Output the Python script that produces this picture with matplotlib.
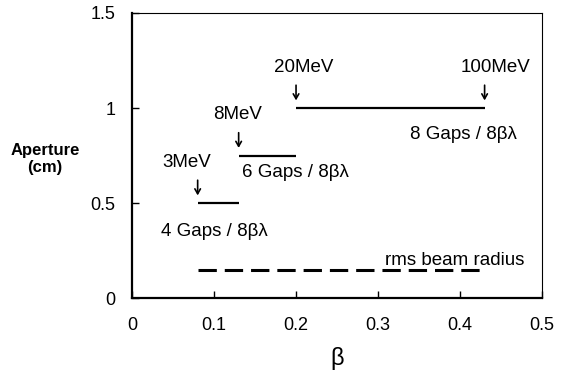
import matplotlib
matplotlib.use('Agg')
import matplotlib.pyplot as plt

plt.rcParams['font.family'] = ['Liberation Sans', 'DejaVu Sans']

# aperture segments: (beta start, beta end, aperture cm)
seg_start = [0.08, 0.13, 0.20]
seg_end = [0.13, 0.20, 0.43]
seg_aperture = [0.5, 0.75, 1.0]
seg_labels = ['4 Gaps / 8βλ', '6 Gaps / 8βλ', '8 Gaps / 8βλ']

# energy markers (beta, aperture below the arrow)
energy_labels = ['3MeV', '8MeV', '20MeV', '100MeV']
energy_beta = [0.08, 0.13, 0.20, 0.43]
energy_aperture = [0.5, 0.75, 1.0, 1.0]

# rms beam radius
rms_beta = [0.08, 0.43]
rms_radius = [0.15, 0.15]

fig = plt.figure(figsize=(5.62, 3.79), dpi=100)
ax = fig.add_axes([0.235, 0.2137, 0.7294, 0.752])

for x0, x1, y in zip(seg_start, seg_end, seg_aperture):
    ax.plot([x0, x1], [y, y], color='black', lw=1.6, solid_capstyle='butt')
ax.plot(rms_beta, rms_radius, color='black', lw=2.2, dashes=(6, 2.6))

# energy labels with down arrows
label_dx = [-0.013, -0.001, 0.009, 0.013]
for name, b, y, dx in zip(energy_labels, energy_beta, energy_aperture, label_dx):
    ax.annotate('', xy=(b, y + 0.04), xytext=(b, y + 0.12),
                arrowprops=dict(arrowstyle='->,head_length=0.35,head_width=0.2',
                                lw=1.2, color='black', shrinkA=0, shrinkB=0))
    ax.text(b + dx, y + 0.215, name, ha='center', va='center', fontsize=13.5)

# gap labels
gap_pos = [(0.10, 0.35), (0.199, 0.66), (0.404, 0.86)]
for txt, (gx, gy) in zip(seg_labels, gap_pos):
    ax.text(gx, gy, txt, ha='center', va='center', fontsize=13.5)

ax.text(0.394, 0.20, 'rms beam radius', ha='center', va='center', fontsize=13.5)

ax.set_xlim(0, 0.5)
ax.set_ylim(0, 1.5)
ax.set_xticks([0, 0.1, 0.2, 0.3, 0.4, 0.5])
ax.set_xticklabels(['0', '0.1', '0.2', '0.3', '0.4', '0.5'])
ax.set_yticks([0, 0.5, 1, 1.5])
ax.set_yticklabels(['0', '0.5', '1', '1.5'])
ax.tick_params(direction='in', length=5, width=1, labelsize=13)
ax.tick_params(axis='x', pad=14)
ax.tick_params(axis='y', pad=12)

for s in ['left', 'bottom']:
    ax.spines[s].set_linewidth(1.6)
for s in ['top', 'right']:
    ax.spines[s].set_linewidth(0.8)

ax.set_xlabel('β', fontsize=17, labelpad=9)
fig.text(0.08, 0.58, 'Aperture\n(cm)', ha='center', va='center',
         fontsize=12, fontweight='bold', linespacing=1.2)

fig.savefig('out.png', dpi=100)
